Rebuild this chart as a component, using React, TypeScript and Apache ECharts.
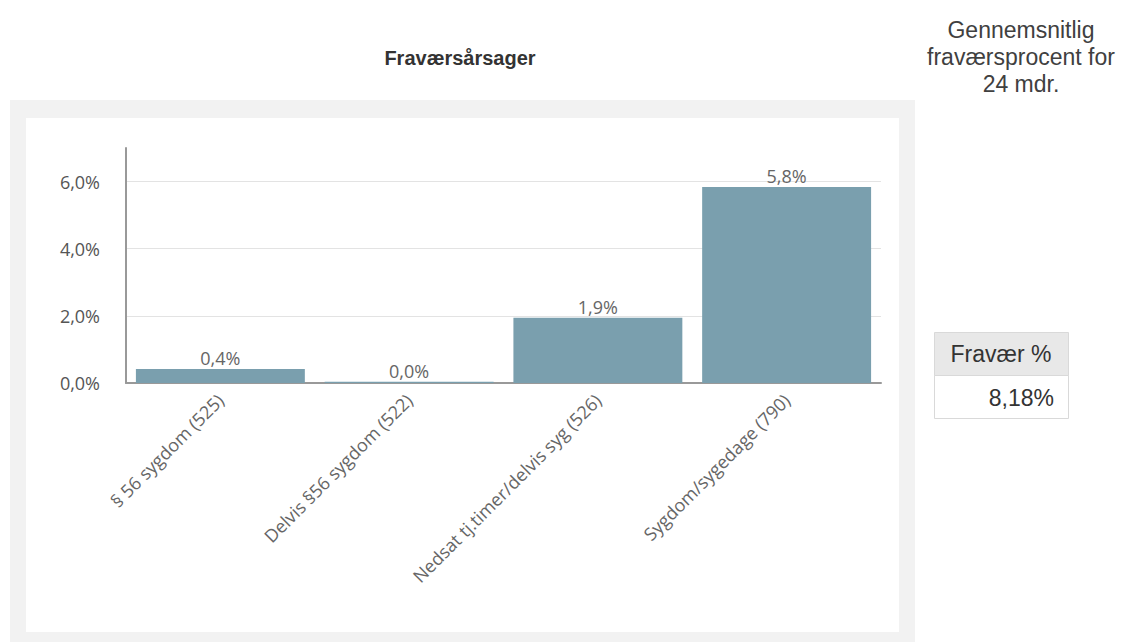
import React, { useEffect, useRef } from "react";
import * as echarts from "echarts";

const categories = [
  "§ 56 sygdom (525)",
  "Delvis §56 sygdom (522)",
  "Nedsat tj.timer/delvis syg (526)",
  "Sygdom/sygedage (790)",
];
const values = [0.42, 0.04, 1.94, 5.84];
const chartTitle = "Fraværsårsager";
const sideTitle = "Gennemsnitlig\nfraværsprocent for\n24 mdr.";
const tableHeader = "Fravær %";
const tableValue = "8,18%";

const fmt = (v: number) => v.toFixed(1).replace(".", ",") + "%";
const SANS = "'Open Sans', 'Noto Sans', sans-serif";
const ARIAL = "'Liberation Sans', Arial, sans-serif";

export default function App() {
  const ref = useRef<HTMLDivElement>(null);
  useEffect(() => {
    document.body.style.margin = "0";
    const chart = echarts.init(ref.current!, null, { renderer: "svg" });
    chart.setOption({
      animation: false,
      backgroundColor: "#ffffff",
      graphic: [
        { type: "rect", z: -10, shape: { x: 10, y: 100, width: 905, height: 542 }, style: { fill: "#f2f2f2" } },
        { type: "rect", z: -9, shape: { x: 26, y: 118, width: 873, height: 514 }, style: { fill: "#ffffff" } },
        {
          type: "text", x: 460, y: 58,
          style: { text: chartTitle, fill: "#333333", font: `bold 20px ${ARIAL}`, align: "center", verticalAlign: "middle" },
        },
        {
          type: "text", x: 1021, y: 57,
          style: { text: sideTitle, fill: "#404040", font: `23px ${ARIAL}`, align: "center", verticalAlign: "middle", lineHeight: 27 },
        },
        { type: "rect", shape: { x: 934.5, y: 332.5, width: 134, height: 43 }, style: { fill: "#e8e8e8", stroke: "#d9d9d9", lineWidth: 1 } },
        { type: "rect", shape: { x: 934.5, y: 375.5, width: 134, height: 43 }, style: { fill: "#ffffff", stroke: "#d9d9d9", lineWidth: 1 } },
        {
          type: "text", x: 1001, y: 354,
          style: { text: tableHeader, fill: "#333333", font: `23px ${ARIAL}`, align: "center", verticalAlign: "middle" },
        },
        {
          type: "text", x: 1054, y: 398,
          style: { text: tableValue, fill: "#333333", font: `23px ${ARIAL}`, align: "right", verticalAlign: "middle" },
        },
      ],
      grid: { left: 126, right: 244, top: 148, bottom: 259, containLabel: false },
      xAxis: {
        type: "category",
        data: categories,
        axisLine: { show: true, lineStyle: { color: "#999999", width: 2 } },
        axisTick: { show: false },
        axisLabel: {
          rotate: 45,
          interval: 0,
          margin: 14,
          color: "#666666",
          fontSize: 18,
          fontFamily: SANS,
        },
      },
      yAxis: {
        type: "value",
        min: 0,
        max: 7,
        interval: 2,
        axisLine: { show: true, lineStyle: { color: "#999999", width: 2 } },
        axisTick: { show: false },
        splitLine: { show: true, showMinLine: false, showMaxLine: false, lineStyle: { color: "#e3e3e3", width: 1 } },
        axisLabel: {
          showMaxLabel: false,
          margin: 26,
          color: "#555555",
          fontSize: 18,
          fontFamily: SANS,
          formatter: (v: number) => fmt(v),
        },
      },
      series: [
        {
          type: "bar",
          data: values,
          barCategoryGap: "10.5%",
          itemStyle: { color: "#7a9fae" },
          label: {
            show: true,
            position: "top",
            distance: 2,
            color: "#666666",
            fontSize: 18,
            fontFamily: SANS,
            formatter: (p: any) => fmt(p.value),
          },
        },
      ],
    });
    return () => chart.dispose();
  }, []);
  return <div ref={ref} style={{ position: "absolute", left: 0, top: 0, width: 1125, height: 642 }} />;
}
